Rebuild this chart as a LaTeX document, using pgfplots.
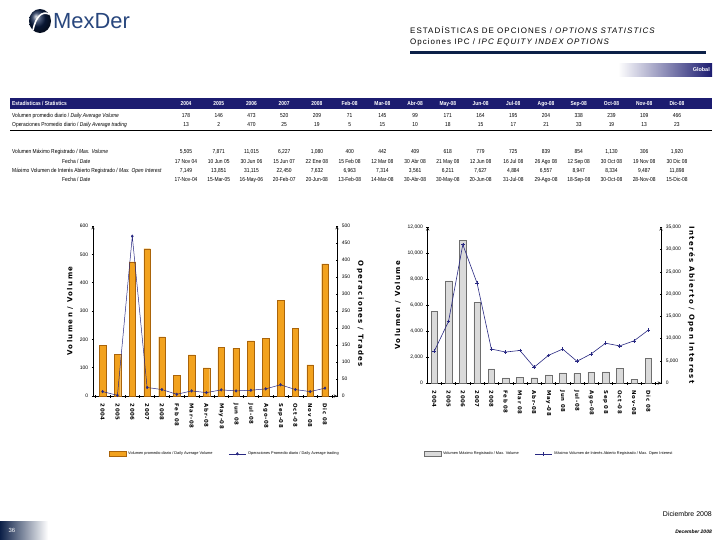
\documentclass[border=0pt]{standalone}
\usepackage{pgfplots}
\pgfplotsset{compat=1.18}
\usepackage{fontspec}
\setmainfont{Liberation Sans}
\newfontfamily\dvb[LetterSpace=12]{DejaVu Sans}
\newfontfamily\dvl[LetterSpace=20]{DejaVu Sans}
\newfontfamily\ttl[LetterSpace=13]{Liberation Sans}
\newfontfamily\narrow[FakeStretch=0.85]{Liberation Sans}
\definecolor{navy}{RGB}{28,28,112}
\definecolor{dnavy}{RGB}{12,32,72}
\definecolor{obar}{RGB}{242,162,30}
\definecolor{obord}{RGB}{170,100,10}
\definecolor{gbar}{RGB}{218,218,218}
\definecolor{gbord}{RGB}{110,110,110}
\definecolor{lnavy}{RGB}{40,40,130}
\definecolor{logo}{RGB}{40,70,125}
\newcommand\tf{\narrow\fontsize{5.8}{6}\selectfont}
\newcommand\catf{\dvb\bfseries\fontsize{5.4}{6}\selectfont}
\newcommand\labf{\dvl\bfseries\fontsize{7}{8}\selectfont}
\newcommand\tickf{\fontsize{5}{5}\selectfont}
\pgfplotsset{
  common/.style={
    scale only axis, anchor=south west,
    axis line style={-, black, line width=0.5pt},
    tick align=outside, tick style={black, line width=0.4pt},
    major tick length=2.5bp, minor tick length=3bp,
    /pgf/number format/assume math mode=true,
    /pgf/number format/1000 sep={,},
    scaled y ticks=false,
    yticklabel style={font=\tickf},
    xticklabel style={font=\catf, rotate=-90, anchor=west},
    xticklabel shift={3bp},
  },
  legst/.style={legend style={draw=none, fill=none, font=\fontsize{3.9}{4}\selectfont,
      /tikz/every even column/.append style={column sep=14bp}},
      legend columns=2, legend cell align=left},
}
\tikzset{tc/.style={inner sep=0, anchor=base}, tl/.style={inner sep=0, anchor=base west}}
\begin{document}
\begin{tikzpicture}
\useasboundingbox (0,0) rectangle (720bp,-540bp);
\fill[white] (0,0) rectangle (720bp,-540bp);
% ---- header
\shade[ball color=dnavy] (40bp,-21bp) ellipse (11bp and 12bp);
\draw[white, line width=1.6bp] (33bp,-30bp) .. controls (36bp,-16bp) and (42bp,-11bp) .. (49bp,-14bp);
\node[anchor=west, text=logo, inner sep=0] at (53bp,-21bp) {\fontsize{22}{24}\selectfont MexDer};
\node[anchor=west, inner sep=0] at (410bp,-30bp) {\ttl\fontsize{8}{9}\selectfont ESTADÍSTICAS DE OPCIONES / \textit{OPTIONS STATISTICS}};
\node[anchor=west, inner sep=0] at (410bp,-42bp) {\ttl\fontsize{8}{9}\selectfont Opciones IPC / \textit{IPC EQUITY INDEX OPTIONS}};
\fill[dnavy] (410bp,-51bp) rectangle (706bp,-54bp);
\shade[left color=white, right color=navy] (618bp,-63bp) rectangle (712bp,-76bp);
\node[anchor=east, text=white, inner sep=0] at (710bp,-69.5bp) {\fontsize{5.5}{6}\selectfont\bfseries Global};
% ---- table
\fill[navy] (10bp,-97.5bp) rectangle (712bp,-108.5bp);
\node[tl, text=white] at (12bp,-105bp) {\tf\bfseries Estadísticas / Statistics};
\foreach \v [count=\i] in {2004,2005,2006,2007,2008,Feb-08,Mar-08,Abr-08,May-08,Jun-08,Jul-08,Ago-08,Sep-08,Oct-08,Nov-08,Dic-08}
  \node[tc, text=white] at ({186bp+(\i-1)*32.73bp},-105bp) {\tf\bfseries \v};
\node[tl] at (12bp,-117bp) {\tf Volumen promedio diario / \textit{Daily Average Volume}};
\foreach \v [count=\i] in {178,146,473,520,209,71,145,99,171,164,195,204,338,239,109,466}
  \node[tc] at ({186bp+(\i-1)*32.73bp},-117bp) {\tf \v};
\node[tl] at (12bp,-126bp) {\tf Operaciones Promedio diario / \textit{Daily Average trading}};
\foreach \v [count=\i] in {13,2,470,25,19,5,15,10,18,15,17,21,33,19,13,23}
  \node[tc] at ({186bp+(\i-1)*32.73bp},-126bp) {\tf \v};
\draw[black, line width=1.1bp] (10bp,-130.5bp) -- (712bp,-130.5bp);
\node[tl] at (12bp,-153bp) {\tf Volumen Máximo Registrado / \textit{Max. Volume}};
\foreach \v [count=\i] in {{5,505},{7,871},{11,015},{6,227},{1,080},400,442,409,618,779,725,839,854,{1,130},306,{1,920}}
  \node[tc] at ({186bp+(\i-1)*32.73bp},-153bp) {\tf \v};
\node[tl] at (62bp,-163bp) {\tf Fecha / \textit{Date}};
\foreach \v [count=\i] in {17 Nov 04,10 Jun 05,30 Jun 06,15 Jun 07,22 Ene 08,15 Feb 08,12 Mar 08,30 Abr 08,21 May 08,12 Jun 08,16 Jul 08,26 Ago 08,12 Sep 08,30 Oct 08,19 Nov 08,30 Dic 08}
  \node[tc] at ({186bp+(\i-1)*32.73bp},-163bp) {\tf \v};
\node[tl] at (12bp,-172bp) {\tf Máximo Volumen de Interés Abierto Registrado / \textit{Max. Open Interest}};
\foreach \v [count=\i] in {{7,149},{13,851},{31,115},{22,450},{7,632},{6,963},{7,314},{3,561},{6,211},{7,627},{4,884},{6,557},{8,947},{8,334},{9,487},{11,898}}
  \node[tc] at ({186bp+(\i-1)*32.73bp},-172bp) {\tf \v};
\node[tl] at (62bp,-181bp) {\tf Fecha / \textit{Date}};
\foreach \v [count=\i] in {17-Nov-04,15-Mar-05,16-May-06,20-Feb-07,20-Jun-08,13-Feb-08,14-Mar-08,30-Abr-08,30-May-08,20-Jun-08,31-Jul-08,29-Ago-08,18-Sep-08,30-Oct-08,28-Nov-08,15-Dic-08}
  \node[tc] at ({186bp+(\i-1)*32.73bp},-181bp) {\tf \v};
% ---- left chart
\begin{axis}[common, at={(93bp,-396bp)}, width=244bp, height=170bp,
  xmin=-0.65, xmax=15.81, ymin=0, ymax=600,
  axis x line=bottom, axis y line=left,
  xtick={0,...,15}, major x tick style={draw=none},
  minor xtick={-0.5,0.5,...,15.5},
  xticklabels={2004,2005,2006,2007,2008,Feb 08,Mar-08,Abr-08,May-08,Jun 08,Jul-08,Ago-08,Sep-08,Oct-08,Nov 08,Dic 08},
  ytick={0,100,...,600},
  ylabel={\labf Volumen / Volume}]
\addplot[ybar, bar width=6.5bp, fill=obar, draw=obord, line width=0.3pt] coordinates {
(0,178)(1,146)(2,473)(3,520)(4,209)(5,72)(6,145)(7,99)(8,171)(9,168)(10,195)(11,204)(12,338)(13,240)(14,110)(15,466)};
\end{axis}
\begin{axis}[common, legst, at={(93bp,-396bp)}, width=244bp, height=170bp,
  xmin=-0.65, xmax=15.81, ymin=0, ymax=500,
  axis x line=none, axis y line=right,
  ytick={0,50,...,500},
  ylabel={\labf Operaciones / Trades}, ylabel style={rotate=180, xshift=3bp},
  legend style={at={(0.54,-0.34)}, anchor=center}]
\addlegendimage{area legend, fill=obar, draw=obord}
\addlegendentry{Volumen promedio diario / Daily Average Volume}
\addplot[lnavy, line width=0.5pt, mark=diamond*, mark size=1.3bp, mark options={fill=lnavy}] coordinates {
(0,13)(1,2)(2,470)(3,25)(4,19)(5,5)(6,15)(7,10)(8,18)(9,15)(10,17)(11,21)(12,33)(13,19)(14,13)(15,23)};
\addlegendentry{Operaciones Promedio diario / Daily Average trading}
\end{axis}
% ---- right chart
\begin{axis}[common, at={(427.7bp,-383bp)}, width=233.3bp, height=155.7bp,
  xmin=-0.46, xmax=15.89, ymin=0, ymax=12000,
  axis x line=bottom, axis y line=left,
  xtick={0,...,15}, major x tick style={draw=none},
  minor xtick={-0.5,0.5,...,15.5},
  xticklabels={2004,2005,2006,2007,2008,Feb 08,Mar 08,Abr-08,May-08,Jun 08,Jul-08,Ago-08,Sep 08,Oct-08,Nov-08,Dic 08},
  ytick={0,2000,...,12000},
  ylabel={\labf Volumen / Volume}]
\addplot[ybar, bar width=6.5bp, fill=gbar, draw=gbord, line width=0.3pt] coordinates {
(0,5505)(1,7871)(2,11015)(3,6227)(4,1080)(5,400)(6,442)(7,409)(8,618)(9,779)(10,725)(11,839)(12,854)(13,1130)(14,306)(15,1920)};
\end{axis}
\begin{axis}[common, legst, at={(427.7bp,-383bp)}, width=233.3bp, height=155.7bp,
  xmin=-0.46, xmax=15.89, ymin=0, ymax=35000,
  axis x line=none, axis y line=right,
  ytick={0,5000,...,35000},
  ylabel={\labf Interés Abierto / Open Interest}, ylabel style={rotate=180},
  legend style={at={(0.52,-0.455)}, anchor=center}]
\addlegendimage{area legend, fill=gbar, draw=gbord}
\addlegendentry{Volumen Máximo Registrado / Max. Volume}
\addplot[lnavy, line width=0.6pt, mark=+, mark size=1.8bp] coordinates {
(0,7149)(1,13851)(2,31115)(3,22450)(4,7632)(5,6963)(6,7314)(7,3561)(8,6211)(9,7627)(10,4884)(11,6557)(12,8947)(13,8334)(14,9487)(15,11898)};
\addlegendentry{Máximo Volumen de Interés Abierto Registrado / Max. Open Interest}
\end{axis}
% ---- footer
\node[anchor=east, inner sep=0] at (712bp,-514bp) {\fontsize{7}{8}\selectfont Diciembre 2008};
\node[anchor=east, inner sep=0] at (712bp,-532bp) {\fontsize{5}{6}\selectfont\bfseries\itshape December 2008};
\shade[left color=dnavy, right color=white] (0,-521bp) rectangle (48bp,-540bp);
\node[text=white, inner sep=0] at (12bp,-530.5bp) {\fontsize{6}{7}\selectfont 36};
\end{tikzpicture}
\end{document}
